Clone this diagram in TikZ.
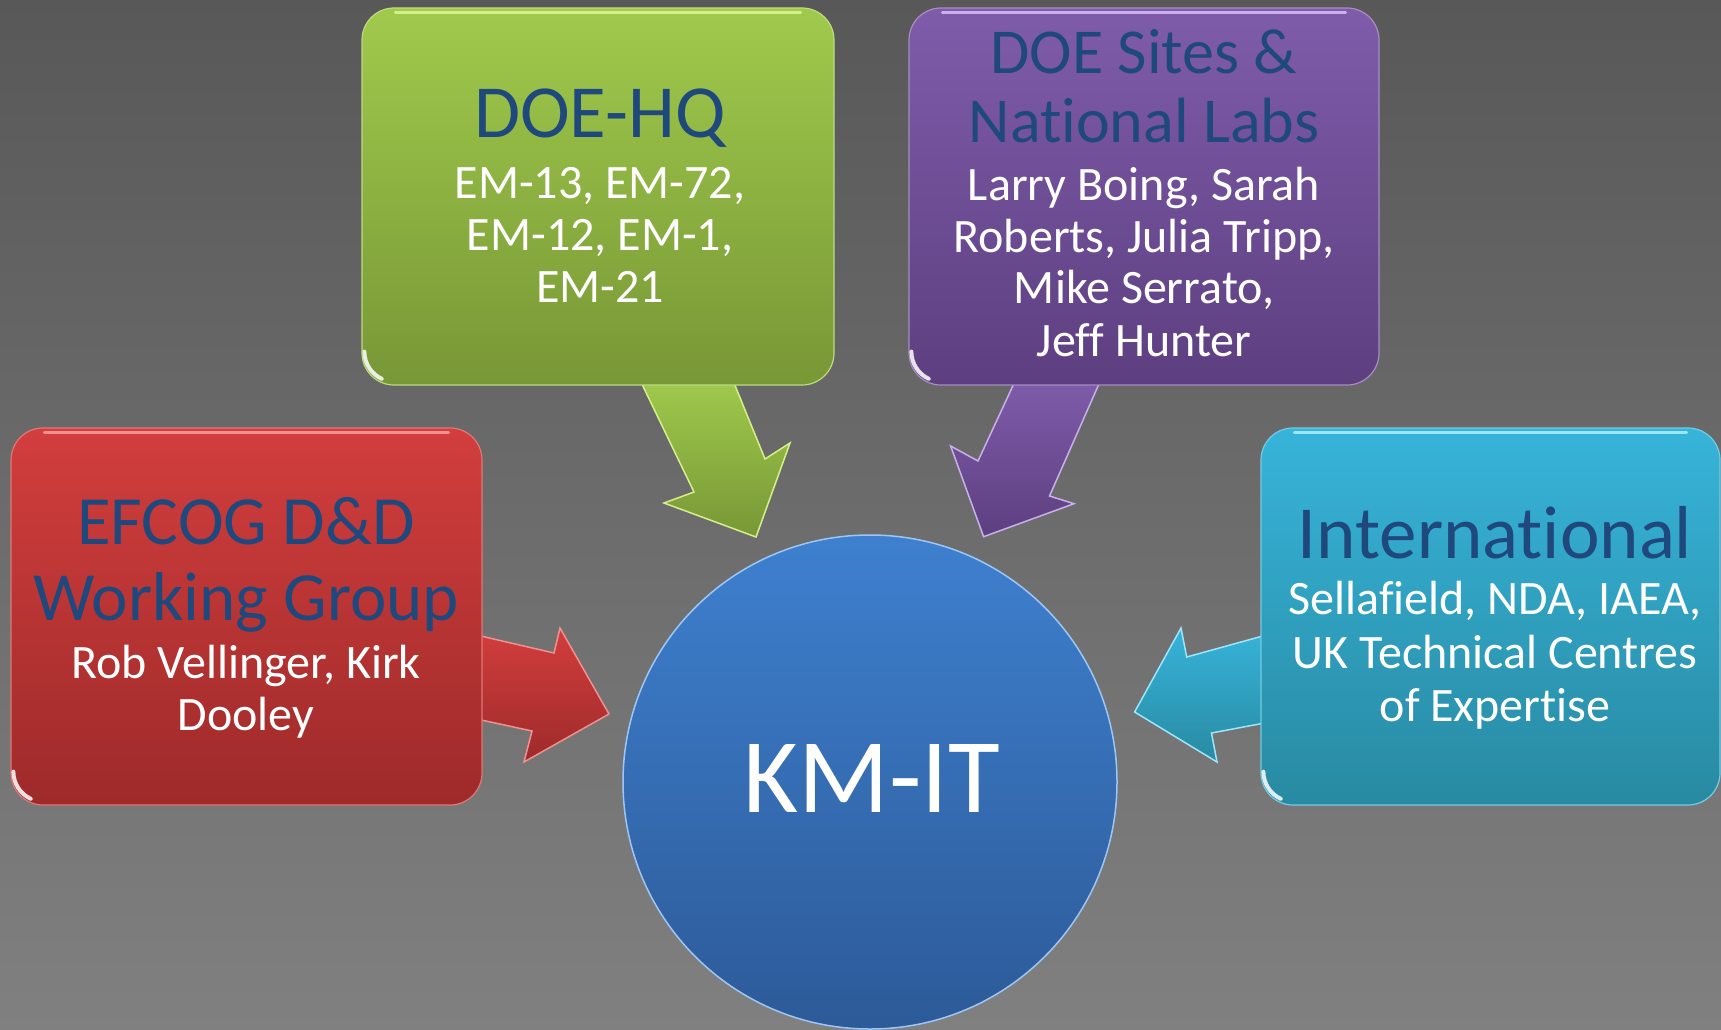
\documentclass[tikz,border=0pt]{standalone}
\usepackage{fontspec}
\setmainfont{Carlito}[Ligatures=NoCommon]
\definecolor{bgtop}{HTML}{585858}
\definecolor{bgbot}{HTML}{808080}
\definecolor{headblue}{HTML}{1F497D}
\definecolor{gtop}{HTML}{A0CA4C}
\definecolor{gbot}{HTML}{789736}
\definecolor{gedge}{HTML}{D4F08A}
\definecolor{ptop}{HTML}{7F5CAA}
\definecolor{pbot}{HTML}{5D3F80}
\definecolor{pedge}{HTML}{C8B0EC}
\definecolor{rtop}{HTML}{D23E3D}
\definecolor{rbot}{HTML}{9E2A2A}
\definecolor{redge}{HTML}{F29090}
\definecolor{ctop}{HTML}{37B4DA}
\definecolor{cbot}{HTML}{288AA2}
\definecolor{cedge}{HTML}{9CE6FA}
\definecolor{btop}{HTML}{3E80CF}
\definecolor{bbot}{HTML}{2D5A98}
\definecolor{bedge}{HTML}{9CC6F4}
\tikzset{
  boxnode/.style={rectangle, rounded corners=32pt, inner sep=0pt, minimum height=377pt, line width=1.2pt},
  headtxt/.style={inner sep=0pt, text=headblue, anchor=base},
  bodytxt/.style={inner sep=0pt, text=white, anchor=base, font=\fontsize{48}{52}\selectfont},
  blockarrow/.style={line width=1.5pt, line join=miter}
}
\begin{document}
\begin{tikzpicture}[x=1pt,y=-1pt]
\clip (0,0) rectangle (1721,1030);
\fill[top color=bgtop, bottom color=bgbot] (0,0) rectangle (1721,1030);

% block arrows (behind boxes)
\draw[blockarrow, top color=gtop, bottom color=gbot, draw=gedge]
  (639,378) -- (694,492) -- (664,503) -- (756,537) -- (790,443) -- (765,459) -- (732,378) -- cycle;
\draw[blockarrow, top color=ptop, bottom color=pbot, draw=pedge]
  (1016.5,378) -- (978,461) -- (950.6,446) -- (983.6,536.7) -- (1074,503.7) -- (1049.5,496) -- (1101.6,378) -- cycle;
\draw[blockarrow, top color=rtop, bottom color=rbot, draw=redge]
  (472,634) -- (554,653) -- (560,628) -- (609,714) -- (524,762) -- (532,731) -- (472,718) -- cycle;
\draw[blockarrow, top color=ctop, bottom color=cbot, draw=cedge]
  (1270,634) -- (1186.7,657) -- (1181,628) -- (1134.6,712) -- (1217,762) -- (1211.5,733) -- (1270,722) -- cycle;

% boxes
\node[boxnode, minimum width=472pt, top color=gtop, bottom color=gbot, draw=gtop!70!white] (hq) at (598,196.5) {};
\node[boxnode, minimum width=470pt, top color=ptop, bottom color=pbot, draw=ptop!70!white] (sites) at (1144,196.5) {};
\node[boxnode, minimum width=471pt, top color=rtop, bottom color=rbot, draw=rtop!70!white] (efcog) at (246.5,616.5) {};
\node[boxnode, minimum width=459pt, top color=ctop, bottom color=cbot, draw=ctop!70!white] (intl) at (1490.5,616.5) {};

% highlights
\foreach \b/\c in {hq/gedge, sites/pedge, efcog/redge, intl/cedge}{
  \draw[\c, line width=3pt, line cap=round] ([xshift=34pt,yshift=-5pt]\b.north west) -- ([xshift=-34pt,yshift=-5pt]\b.north east);
  \draw[white, line width=4pt, line cap=round, opacity=0.85] ([xshift=3pt,yshift=34pt]\b.south west) arc[start angle=180, end angle=245, radius=30pt];
}

% circle
\node[circle, minimum size=494pt, inner sep=0pt, top color=btop, bottom color=bbot, draw=bedge, line width=1.5pt] (km) at (870,782) {};
\node[inner sep=0pt, text=white, anchor=base, font=\fontsize{106}{114}\selectfont] (kmt) at (872,812) {KM-IT};

% texts
\node[headtxt, font=\fontsize{75}{80}\selectfont] (hqh) at (600,138) {DOE-HQ};
\node[bodytxt] (hqb) at (600,198) {\begin{tabular}[t]{@{}c@{}}EM-13, EM-72,\\EM-12, EM-1,\\EM-21\end{tabular}};

\node[headtxt, font=\fontsize{64}{69}\selectfont] (sitesh) at (1144,74) {\begin{tabular}[t]{@{}c@{}}DOE Sites \&\\National Labs\end{tabular}};
\node[bodytxt] (sitesb) at (1144,200) {\begin{tabular}[t]{@{}c@{}}Larry Boing, Sarah\\Roberts, Julia Tripp,\\Mike Serrato,\\Jeff Hunter\end{tabular}};

\node[headtxt, font=\fontsize{69}{75.5}\selectfont] (efcogh) at (246,544.5) {\begin{tabular}[t]{@{}c@{}}EFCOG D\&D\\Working Group\end{tabular}};
\node[bodytxt] (efcogb) at (246,678) {\begin{tabular}[t]{@{}c@{}}Rob Vellinger, Kirk\\Dooley\end{tabular}};

\node[headtxt, font=\fontsize{75}{80}\selectfont] (intlh) at (1495,558) {International};
\node[bodytxt, font=\fontsize{48}{53.5}\selectfont] (intlb) at (1495,614.5) {\begin{tabular}[t]{@{}c@{}}Sellafield, NDA, IAEA,\\UK Technical Centres\\of Expertise\end{tabular}};
\end{tikzpicture}
\end{document}
